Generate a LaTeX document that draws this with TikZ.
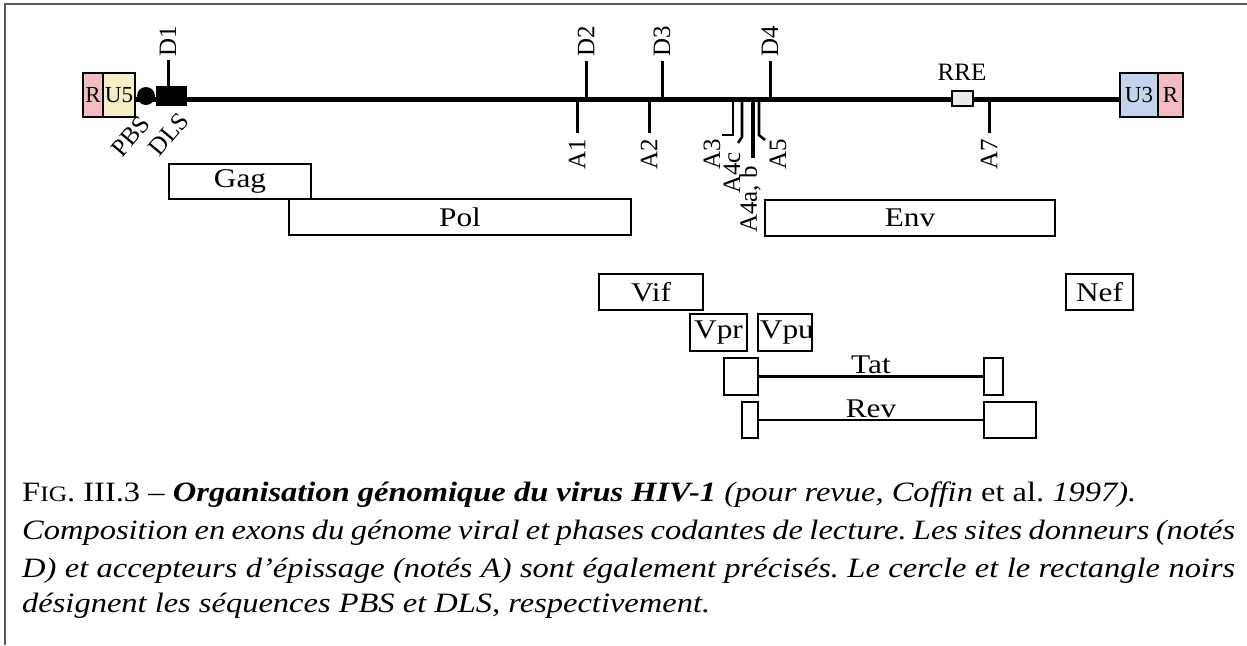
\documentclass[tikz,border=0pt]{standalone}
\usepackage{fontspec}
\setmainfont{Liberation Serif}
\newfontfamily\wideserif[FakeStretch=1.16,Ligatures=TeX]{Liberation Serif}
\definecolor{pinkR}{HTML}{F2BCC2}
\definecolor{yelU}{HTML}{F6EEC4}
\definecolor{bluU}{HTML}{C2D4EE}
\definecolor{rreC}{HTML}{E4EAEE}
\definecolor{frameC}{HTML}{5A5A5A}
\newcommand\genefont{\wideserif\fontsize{27}{30}\selectfont}
\newcommand\tickfont{\fontsize{25}{28}\selectfont}
\newcommand\ltrfont{\fontsize{23}{26}\selectfont}
\newcommand\capfont{\wideserif\fontsize{28}{32}\selectfont}
\frenchspacing
\begin{document}
\begin{tikzpicture}[x=1pt,y=-1pt,
  gene/.style={draw, line width=2.6pt, inner sep=0pt, font=\genefont},
  ltr/.style={draw, line width=2.6pt, inner sep=0pt, font=\ltrfont, minimum height=44pt},
  tick/.style={line width=3pt},
  tlab/.style={inner sep=0pt, font=\tickfont, rotate=90},
  capline/.style={inner sep=0pt, anchor=base west, font=\capfont},
  frame/.style={draw=frameC, line width=2pt}]
\useasboundingbox (0,0) rectangle (1247,645);
\draw[frame] (5,645) -- (5,4) -- (1247,4);

% main genome line
\coordinate (lstart) at (135,99);
\coordinate (lend) at (1120,99);
\draw[line width=5pt] (lstart) -- (lend);

% LTR boxes
\node[ltr, fill=pinkR, minimum width=20pt] (r5) at (93,95) {R};
\node[ltr, fill=yelU, minimum width=32pt] (u5) at (119,95) {U5};
\node[ltr, fill=bluU, minimum width=38pt] (u3) at (1139,95) {U3};
\node[ltr, fill=pinkR, minimum width=25pt] (r3) at (1170.5,95) {R};

% PBS, DLS
\node[circle, fill=black, inner sep=0pt, minimum size=18pt] (pbs) at (146,96) {};
\node[fill=black, inner sep=0pt, minimum width=31pt, minimum height=20pt] (dls) at (171.5,96) {};
\node[inner sep=0pt, font=\tickfont, rotate=50, anchor=east] (pbsl) at (145,119) {PBS};
\node[inner sep=0pt, font=\tickfont, rotate=50, anchor=east] (dlsl) at (184,116) {DLS};

% donor sites
\coordinate (d1t) at (168,60);
\draw[tick] (dls.north -| d1t) -- (d1t);
\node[tlab, anchor=west] (d1) at (168,57) {D1};
\foreach \n/\x in {d2/586,d3/662,d4/770}{
  \coordinate (\n b) at (\x,99);
  \coordinate (\n t) at (\x,61);
  \draw[tick] (\n b) -- (\n t);
}
\node[tlab, anchor=west] (d2) at (586,57) {D2};
\node[tlab, anchor=west] (d3) at (662,57) {D3};
\node[tlab, anchor=west] (d4) at (770,57) {D4};

% acceptor sites
\foreach \n/\x in {a1/577,a2/649,a7/989}{
  \coordinate (\n t) at (\x,99);
  \coordinate (\n b) at (\x,133);
  \draw[tick] (\n t) -- (\n b);
}
\node[tlab, anchor=east] (a1) at (577,139) {A1};
\node[tlab, anchor=east] (a2) at (649,139) {A2};
\node[tlab, anchor=east] (a7) at (989,139) {A7};

\coordinate (a3t) at (733,99); \coordinate (a3m) at (733,135); \coordinate (a3e) at (722,135);
\draw[line width=2.6pt] (a3t) -- (a3m) -- (a3e);
\node[tlab, anchor=east] (a3) at (712,139) {A3};

\coordinate (a4ct) at (742,99); \coordinate (a4cm) at (742,137); \coordinate (a4ce) at (738,143);
\draw[line width=2.6pt] (a4ct) -- (a4cm) -- (a4ce);
\node[tlab, anchor=east] (a4c) at (732,152) {A4c};

\coordinate (a4bt) at (753,99); \coordinate (a4bb) at (753,158);
\draw[line width=4.5pt] (a4bt) -- (a4bb);
\node[tlab, anchor=east] (a4ab) at (750,166) {A4a, b};

\coordinate (a5t) at (759,99); \coordinate (a5m) at (759,135); \coordinate (a5e) at (765,140);
\draw[line width=2.6pt] (a5t) -- (a5m) -- (a5e);
\node[tlab, anchor=east] (a5) at (778,139) {A5};

% RRE
\node[draw, line width=2.4pt, fill=rreC, inner sep=0pt, minimum width=21pt, minimum height=15pt] (rre) at (962.5,98.5) {};
\node[inner sep=0pt, font=\tickfont] (rrel) at (962,72) {RRE};

% genes
\node[gene, minimum width=342pt, minimum height=36pt] (pol) at (460,217) {Pol};
\node[gene, minimum width=142pt, minimum height=35pt] (gag) at (240,181.5) {Gag};
\node[gene, minimum width=290pt, minimum height=36pt] (env) at (910,218) {Env};
\node[gene, minimum width=104pt, minimum height=36pt] (vif) at (651,292) {Vif};
\node[gene, minimum width=67pt, minimum height=36pt] (nef) at (1099.5,292) {Nef};
\node[gene, minimum width=57pt, minimum height=37pt] (vpr) at (718.5,332.5) {Vpr};
\node[gene, minimum width=54pt, minimum height=37pt] (vpu) at (785,332.5) {};
\node[inner sep=0pt, font=\genefont, anchor=west] (vput) at ([xshift=3pt]vpu.west) {Vpu};

% Tat
\node[gene, minimum width=34pt, minimum height=37pt] (tat1) at (741,376.5) {};
\node[gene, minimum width=19pt, minimum height=37pt] (tat2) at (993.5,376.5) {};
\draw[line width=2.6pt] (tat1.east) -- (tat2.west) node[midway, above=0pt, font=\genefont, inner sep=1pt] (tatl) {Tat};
% Rev
\node[gene, minimum width=16pt, minimum height=36pt] (rev1) at (750,420) {};
\node[gene, minimum width=52pt, minimum height=36pt] (rev2) at (1010,420) {};
\draw[line width=2.6pt] (rev1.east) -- (rev2.west) node[midway, above=0pt, font=\genefont, inner sep=1pt] (revl) {Rev};

% caption
\node[capline] (cap1) at (22,501) {F{\fontsize{22}{24}\selectfont IG}. III.3 -- \textbf{\textit{Organisation génomique du virus HIV-1}} \textit{(pour revue, Coffin} et al. \textit{1997).}};
\node[capline] (cap2) at (22,539) {\makebox[1213pt][s]{\itshape Composition en exons du génome viral et phases codantes de lecture. Les sites donneurs (notés}};
\node[capline] (cap3) at (22,577) {\makebox[1213pt][s]{\itshape D) et accepteurs d'épissage (notés A) sont également précisés. Le cercle et le rectangle noirs}};
\node[capline] (cap4) at (22,612) {\itshape désignent les séquences PBS et DLS, respectivement.};
\end{tikzpicture}
\end{document}
